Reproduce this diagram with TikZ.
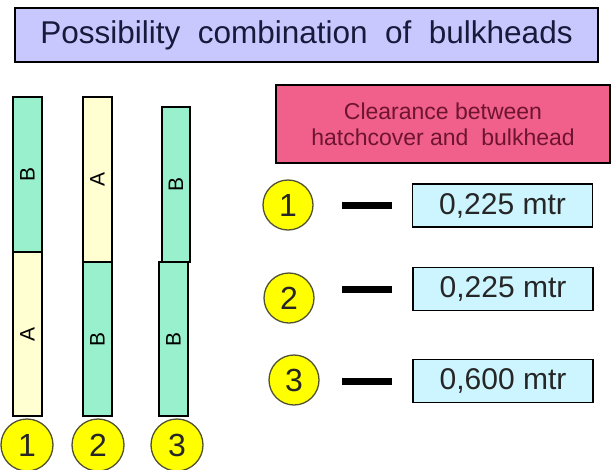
\documentclass[tikz,border=0pt]{standalone}
\usepackage{fontspec}
\setmainfont{Liberation Sans}
\usetikzlibrary{positioning}

\definecolor{titleblue}{RGB}{200,200,255}
\definecolor{titletext}{RGB}{25,25,60}
\definecolor{hotpink}{RGB}{240,96,138}
\definecolor{pinktext}{RGB}{110,20,50}
\definecolor{mint}{RGB}{153,240,204}
\definecolor{cream}{RGB}{255,255,210}
\definecolor{paleblue}{RGB}{204,245,255}
\definecolor{numyellow}{RGB}{255,255,0}
\definecolor{rimgray}{RGB}{80,80,50}

\begin{document}
\begin{tikzpicture}[x=1pt,y=-1pt,
	segment/.style={draw, line width=1.2pt, rotate=90, minimum height=29pt, inner sep=0pt, font=\fontsize{21}{21}\selectfont},
	numball/.style={circle, draw=rimgray, line width=1.3pt, fill=numyellow, minimum size=50pt, inner sep=0pt, text=black!85, font=\fontsize{32}{32}\selectfont},
	valbox/.style={draw, line width=1.2pt, fill=paleblue, minimum width=180pt, minimum height=43pt, inner sep=0pt, text=black!85, font=\fontsize{30}{30}\selectfont},
	linkbar/.style={fill=black, minimum width=50pt, minimum height=7pt, inner sep=0pt}]

		\useasboundingbox (0,0) rectangle (612,469);

		% title
		\node (title) [draw, line width=1.5pt, fill=titleblue, text=titletext, minimum width=583pt, minimum height=54pt, font=\fontsize{31.5}{31.5}\selectfont] at (306.5,35) {Possibility~ combination~ of~ bulkheads};

		% bulkheads, bar 1
		\node (bulk1B) [segment, fill=mint, minimum width=155pt] at (27.5,174.5) {B};
		\node (bulk1A) [segment, fill=cream, minimum width=164pt] at (27.5,334) {A};
		% bar 2
		\node (bulk2A) [segment, fill=cream, minimum width=165pt] at (97.5,179.5) {A};
		\node (bulk2B) [segment, fill=mint, minimum width=154pt] at (97.5,339) {B};
		% bar 3
		\node (bulk3Bt) [segment, fill=mint, minimum width=155pt, minimum height=28pt] at (176,184.5) {B};
		\node (bulk3Bb) [segment, fill=mint, minimum width=154pt] at (173.5,339) {B};

		% numbers under the bars
		\node (num1) [numball, minimum size=52pt] at (27,445) {1};
		\node (num2) [numball, minimum size=52pt] at (98,445) {2};
		\node (num3) [numball, minimum size=52pt] at (177,445) {3};

		% clearance header
		\node (clear) [draw, line width=1.2pt, fill=hotpink, text=pinktext, minimum width=334pt, minimum height=78pt, align=center, font=\fontsize{23}{26}\selectfont] at (443,124) {Clearance between\\hatchcover and~ bulkhead};

		% values
		\node (val1) [valbox] at (502.5,205.5) {0,225 mtr};
		\node (val2) [valbox] at (503,289) {0,225 mtr};
		\node (val3) [valbox] at (503,381) {0,600 mtr};

		\node (dash1) [linkbar, left = 20pt of val1] {};
		\node (dash2) [linkbar, left = 20pt of val2] {};
		\node (dash3) [linkbar, left = 20pt of val3] {};

		\node (key1) [numball] at (288,205) {1};
		\node (key2) [numball] at (289,298) {2};
		\node (key3) [numball] at (294,380) {3};
	\end{tikzpicture}
\end{document}
